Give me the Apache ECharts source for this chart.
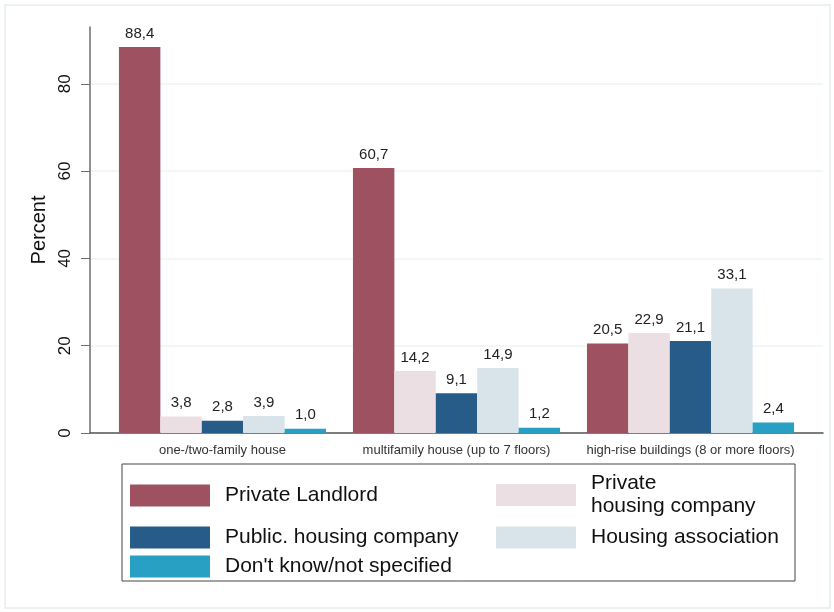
<!DOCTYPE html>
<html>
<head>
<meta charset="utf-8">
<script src="https://cdn.jsdelivr.net/npm/echarts@6/dist/echarts.min.js"></script>
<style>
  html, body { margin: 0; padding: 0; background: #fff; }
  #chart { width: 834px; height: 612px; }
</style>
</head>
<body>
<div id="chart"></div>
<script>
// categories and values (percent)
const categories = ['one-/two-family house', 'multifamily house (up to 7 floors)', 'high-rise buildings (8 or more floors)']
const seriesNames = ['Private Landlord', 'Private\nhousing company', 'Public. housing company', 'Housing association', "Don't know/not specified"]
const privateLandlord = [88.4, 60.7, 20.5]
const privateCompany = [3.8, 14.2, 22.9]
const publicCompany = [2.8, 9.1, 21.1]
const housingAssoc = [3.9, 14.9, 33.1]
const dontKnow = [1.0, 1.2, 2.4]
const yTicks = [0, 20, 40, 60, 80]

const colors = ['#9d5161', '#ecdfe3', '#275c89', '#d9e3ea', '#28a0c3']
const font = 'Liberation Sans, Arial, sans-serif'

const dom = echarts.init(document.getElementById('chart'))

const makeSeries = (name, data, i) => ({
  name: name,
  type: 'bar',
  xAxisIndex: 1,
  yAxisIndex: 1,
  data: data,
  barGap: 0,
  barCategoryGap: '11.5%',
  itemStyle: { color: colors[i] },
  label: {
    show: true,
    position: 'top',
    distance: 6,
    fontFamily: font,
    fontSize: 15,
    color: '#222',
    formatter: p => p.value.toFixed(1).replace('.', ',')
  }
})

const legendAt = (name, left, top) => ({
  data: [name],
  left: left,
  top: top,
  padding: 0,
  itemWidth: 80,
  itemHeight: 22,
  itemGap: 0,
  icon: 'rect',
  selectedMode: false,
  textStyle: { fontFamily: font, fontSize: 21, color: '#111', lineHeight: 23, padding: [0, 0, 0, 10] }
})

const option = {
  animation: false,
  backgroundColor: '#fff',
  graphic: [
    { type: 'rect', shape: { x: 5, y: 5, width: 825, height: 603 }, style: { fill: 'none', stroke: '#e6edf1', lineWidth: 1.5 }, silent: true },
    { type: 'rect', shape: { x: 122, y: 464, width: 673, height: 117 }, style: { fill: 'none', stroke: '#444', lineWidth: 1 }, silent: true }
  ],
  grid: [
    { left: 90, right: 11, top: 27, bottom: 179 },
    { left: 105.5, right: 26.5, top: 27, bottom: 179 }
  ],
  xAxis: [
    {
      gridIndex: 0,
      type: 'value',
      min: 0,
      max: 1,
      axisLine: { show: true, lineStyle: { color: '#555', width: 1.5 } },
      axisTick: { show: false },
      axisLabel: { show: false },
      splitLine: { show: false }
    },
    {
      gridIndex: 1,
      type: 'category',
      data: categories,
      axisLine: { show: false },
      axisTick: { show: false },
      axisLabel: { interval: 0, hideOverlap: false, fontFamily: font, fontSize: 13, color: '#333', margin: 11 }
    }
  ],
  yAxis: [
    {
      gridIndex: 0,
      type: 'value',
      min: 0,
      max: 93,
      interval: 20,
      name: 'Percent',
      nameLocation: 'middle',
      nameGap: 37,
      nameTextStyle: { fontFamily: font, fontSize: 20, color: '#111' },
      axisLine: { show: true, lineStyle: { color: '#6e6e6e', width: 1.5 } },
      axisTick: { show: true, length: 9, lineStyle: { color: '#6e6e6e' }, customValues: yTicks },
      axisLabel: { rotate: 90, margin: 16, fontFamily: font, fontSize: 17, color: '#111', customValues: yTicks },
      splitLine: { show: true, lineStyle: { color: '#eef3f5', width: 1.5 } }
    },
    {
      gridIndex: 1,
      type: 'value',
      min: 0,
      max: 93,
      show: false,
      splitLine: { show: false }
    }
  ],
  legend: [
    legendAt(seriesNames[0], 130, 484),
    legendAt(seriesNames[1], 496, 472),
    legendAt(seriesNames[2], 130, 526),
    legendAt(seriesNames[3], 496, 526),
    legendAt(seriesNames[4], 130, 555)
  ],
  series: [
    makeSeries(seriesNames[0], privateLandlord, 0),
    makeSeries(seriesNames[1], privateCompany, 1),
    makeSeries(seriesNames[2], publicCompany, 2),
    makeSeries(seriesNames[3], housingAssoc, 3),
    makeSeries(seriesNames[4], dontKnow, 4)
  ]
}

dom.setOption(option)
</script>
</body>
</html>
